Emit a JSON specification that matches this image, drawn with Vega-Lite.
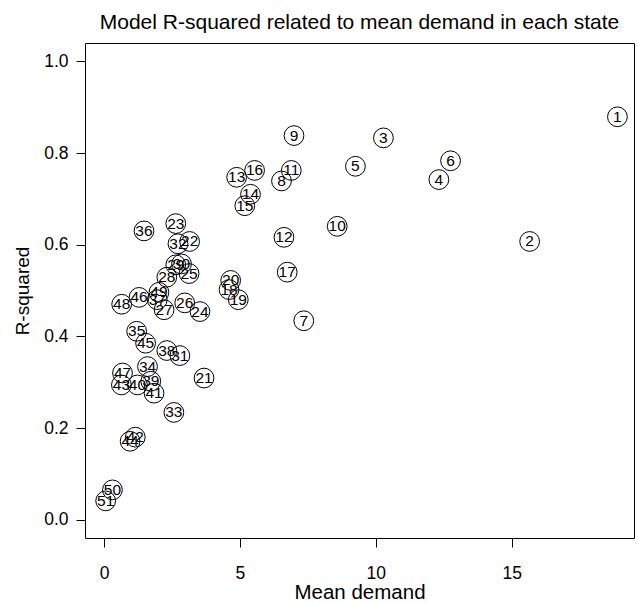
{
  "$schema": "https://vega.github.io/schema/vega-lite/v6.json",
  "width": 549,
  "height": 495,
  "autosize": {"type": "none"},
  "padding": {"left": 85, "top": 43, "right": 3, "bottom": 65},
  "title": {
    "text": "Model R-squared related to mean demand in each state",
    "font": "Liberation Sans",
    "fontSize": 21,
    "fontWeight": "normal",
    "color": "black",
    "anchor": "middle",
    "offset": 10
  },
  "data": {
    "values": [
      {"state": "1", "demand": 18.89, "rsq": 0.879},
      {"state": "2", "demand": 15.66, "rsq": 0.607},
      {"state": "3", "demand": 10.28, "rsq": 0.833},
      {"state": "4", "demand": 12.32, "rsq": 0.742},
      {"state": "5", "demand": 9.25, "rsq": 0.771},
      {"state": "6", "demand": 12.75, "rsq": 0.783},
      {"state": "7", "demand": 7.35, "rsq": 0.434},
      {"state": "8", "demand": 6.53, "rsq": 0.739},
      {"state": "9", "demand": 6.99, "rsq": 0.838},
      {"state": "10", "demand": 8.58, "rsq": 0.640},
      {"state": "11", "demand": 6.89, "rsq": 0.762},
      {"state": "12", "demand": 6.62, "rsq": 0.616},
      {"state": "13", "demand": 4.88, "rsq": 0.747},
      {"state": "14", "demand": 5.39, "rsq": 0.710},
      {"state": "15", "demand": 5.18, "rsq": 0.685},
      {"state": "16", "demand": 5.54, "rsq": 0.762},
      {"state": "17", "demand": 6.74, "rsq": 0.540},
      {"state": "18", "demand": 4.60, "rsq": 0.502},
      {"state": "19", "demand": 4.94, "rsq": 0.480},
      {"state": "20", "demand": 4.66, "rsq": 0.522},
      {"state": "21", "demand": 3.68, "rsq": 0.309},
      {"state": "22", "demand": 3.15, "rsq": 0.607},
      {"state": "23", "demand": 2.64, "rsq": 0.646},
      {"state": "24", "demand": 3.53, "rsq": 0.454},
      {"state": "25", "demand": 3.13, "rsq": 0.537},
      {"state": "26", "demand": 2.97, "rsq": 0.473},
      {"state": "27", "demand": 2.21, "rsq": 0.458},
      {"state": "28", "demand": 2.31, "rsq": 0.529},
      {"state": "29", "demand": 2.64, "rsq": 0.556},
      {"state": "30", "demand": 2.85, "rsq": 0.558},
      {"state": "31", "demand": 2.79, "rsq": 0.358},
      {"state": "32", "demand": 2.72, "rsq": 0.602},
      {"state": "33", "demand": 2.57, "rsq": 0.234},
      {"state": "34", "demand": 1.60, "rsq": 0.334},
      {"state": "35", "demand": 1.20, "rsq": 0.411},
      {"state": "36", "demand": 1.47, "rsq": 0.630},
      {"state": "37", "demand": 1.96, "rsq": 0.480},
      {"state": "38", "demand": 2.31, "rsq": 0.369},
      {"state": "39", "demand": 1.72, "rsq": 0.302},
      {"state": "40", "demand": 1.23, "rsq": 0.294},
      {"state": "41", "demand": 1.84, "rsq": 0.276},
      {"state": "42", "demand": 1.15, "rsq": 0.180},
      {"state": "43", "demand": 0.64, "rsq": 0.294},
      {"state": "44", "demand": 0.96, "rsq": 0.171},
      {"state": "45", "demand": 1.53, "rsq": 0.385},
      {"state": "46", "demand": 1.29, "rsq": 0.485},
      {"state": "47", "demand": 0.68, "rsq": 0.320},
      {"state": "48", "demand": 0.65, "rsq": 0.470},
      {"state": "49", "demand": 2.02, "rsq": 0.496},
      {"state": "50", "demand": 0.31, "rsq": 0.065},
      {"state": "51", "demand": 0.06, "rsq": 0.041}
    ]
  },
  "encoding": {
    "x": {
      "field": "demand",
      "type": "quantitative",
      "scale": {"domain": [-0.7, 19.5], "nice": false, "zero": false},
      "axis": {
        "title": "Mean demand",
        "values": [0, 5, 10, 15],
        "format": "d",
        "grid": false,
        "domain": false,
        "tickSize": 9,
        "tickColor": "black",
        "labelFont": "Liberation Sans",
        "labelFontSize": 17.5,
        "labelColor": "black",
        "labelPadding": 17,
        "titleFont": "Liberation Sans",
        "titleFontSize": 20.5,
        "titleFontWeight": "normal",
        "titleColor": "black",
        "titlePadding": 1
      }
    },
    "y": {
      "field": "rsq",
      "type": "quantitative",
      "scale": {"domain": [-0.04, 1.04], "nice": false, "zero": false},
      "axis": {
        "title": "R-squared",
        "values": [0, 0.2, 0.4, 0.6, 0.8, 1.0],
        "format": ".1f",
        "grid": false,
        "domain": false,
        "tickSize": 9,
        "tickColor": "black",
        "labelFont": "Liberation Sans",
        "labelFontSize": 17.5,
        "labelColor": "black",
        "labelPadding": 8,
        "titleFont": "Liberation Sans",
        "titleFontSize": 19,
        "titleFontWeight": "normal",
        "titleColor": "black",
        "titlePadding": 11
      }
    }
  },
  "layer": [
    {
      "mark": {"type": "point", "shape": "circle", "filled": false, "stroke": "black", "strokeWidth": 1, "size": 390, "opacity": 1}
    },
    {
      "mark": {"type": "text", "font": "Liberation Sans", "fontSize": 15.5, "color": "black", "align": "center", "baseline": "middle"},
      "encoding": {"text": {"field": "state"}}
    }
  ],
  "config": {
    "view": {"stroke": "black", "strokeWidth": 1}
  }
}
